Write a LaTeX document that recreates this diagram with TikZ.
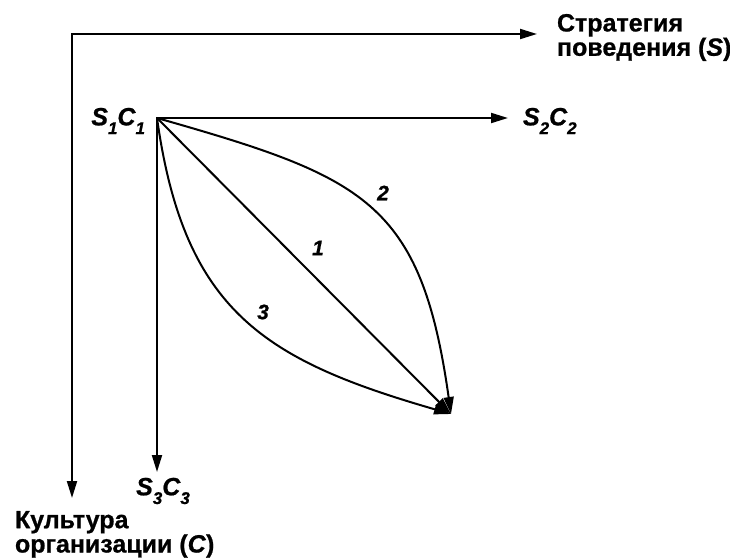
\documentclass[tikz,border=0pt]{standalone}
\usepackage{fontspec}
\setmainfont{Liberation Sans}[BoldFeatures={FakeBold=0.8},BoldItalicFeatures={FakeBold=0.8}]
\usetikzlibrary{arrows.meta}
\newcommand{\subs}[1]{\raisebox{-0.35em}{\fontsize{17}{17}\selectfont #1}}
\begin{document}
\begin{tikzpicture}[x=1pt,y=-1pt,line width=2pt,
  tip/.style={-{Triangle[length=17pt,width=10pt]}},
  tips/.style={{Triangle[length=17pt,width=10pt]}-{Triangle[length=17pt,width=10pt]}},
  axlabel/.style={font=\fontsize{25}{22}\selectfont\bfseries,align=left,inner sep=0pt},
  state/.style={font=\fontsize{25}{25}\selectfont\bfseries\itshape,inner sep=0pt},
  num/.style={font=\fontsize{21}{21}\selectfont\bfseries\itshape,inner sep=0pt}]
\useasboundingbox (0,0) rectangle (730,559);
% coordinates
\coordinate (O) at (72,34);
\coordinate (OS) at (537,34);
\coordinate (OC) at (72,498);
\coordinate (A) at (157,118);
\coordinate (B) at (508,118);
\coordinate (Cc) at (157,472);
\coordinate (E) at (451,414);
% axes
\draw[tips] (OC) -- (O) -- (OS);
\draw[tips] (Cc) -- (A) -- (B);
% paths
\draw[tip] (A) -- (E);
\draw[tip] (A) .. controls (364,177) and (421,201) .. (E);
\draw[tip] (A) .. controls (184,311) and (264,360) .. (E);
% labels
\node[axlabel,anchor=north west] (sl) at (556,13) {Стратегия\\поведения (\textit{S})};
\node[axlabel,anchor=north west] (cl) at (14,510) {Культура\\организации (\textit{C})};
\node[state,anchor=east] (s1) at (146,121) {S\subs{1}C\subs{1}};
\node[state,anchor=west] (s2) at (522,121) {S\subs{2}C\subs{2}};
\node[state] (s3) at (163,491) {S\subs{3}C\subs{3}};
\node[num] (n2) at (383,193) {2};
\node[num] (n1) at (318,248) {1};
\node[num] (n3) at (263,312) {3};
\end{tikzpicture}
\end{document}
